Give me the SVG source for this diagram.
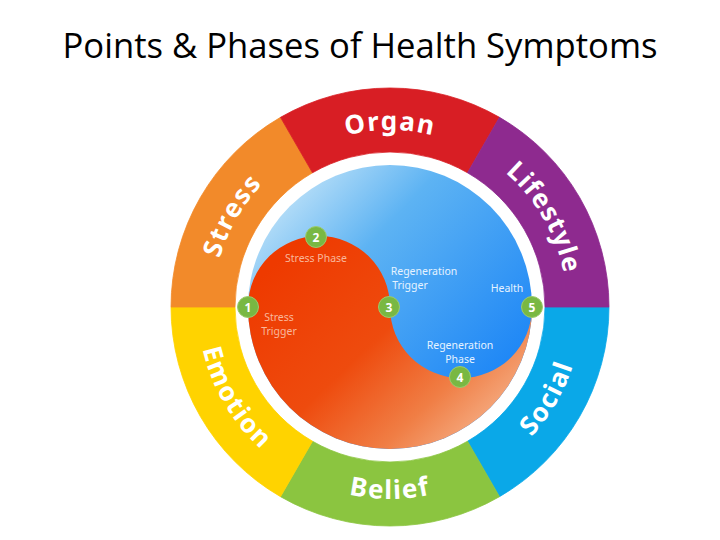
<svg xmlns="http://www.w3.org/2000/svg" xmlns:xlink="http://www.w3.org/1999/xlink" width="720" height="540" viewBox="0 0 720 540">
<style>
  .title{font-family:"Open Sans","Liberation Sans",sans-serif;font-size:34px;fill:#000}
  .ringlbl{font-family:"Noto Sans","Open Sans",sans-serif;font-weight:700;font-size:26px;fill:#fff;letter-spacing:1.5px}
  .lbl{font-family:"Noto Sans","Open Sans",sans-serif;font-size:10.5px;text-anchor:middle}
  .lr{fill:#F9B79B}
  .lb{fill:#E6F3FF}
  .pt circle{fill:#79B843;stroke:#9CCB6E;stroke-width:1}
  .pt text{font-family:"Noto Sans","Open Sans",sans-serif;font-weight:700;font-size:12px;fill:#fff;text-anchor:middle}
</style>
<defs>
  <linearGradient id="gBlue" gradientUnits="userSpaceOnUse" x1="300" y1="170" x2="510" y2="370">
    <stop offset="0" stop-color="#BFE2F8"/>
    <stop offset="0.35" stop-color="#5DB3F3"/>
    <stop offset="1" stop-color="#1D86F6"/>
  </linearGradient>
  <linearGradient id="gRed" gradientUnits="userSpaceOnUse" x1="290" y1="250" x2="480" y2="450">
    <stop offset="0" stop-color="#EE3A00"/>
    <stop offset="0.45" stop-color="#EE4B0E"/>
    <stop offset="0.75" stop-color="#F07E45"/>
    <stop offset="1" stop-color="#F6B58E"/>
  </linearGradient>
  <path id="arcTop" d="M213,307 A177,177 0 0 1 567,307"/>
  <path id="arcBot" d="M198,307 A192,192 0 0 0 582,307"/>
</defs>
<rect width="720" height="540" fill="#fff"/>
<text class="title" x="360" y="58" text-anchor="middle" textLength="595" lengthAdjust="spacingAndGlyphs">Points &amp; Phases of Health Symptoms</text>

<g id="ring">
  <g id="seg-social"><path d="M609,307 A219,219 0 0 1 499.5,496.66 L467.5,441.23 A155,155 0 0 0 545,307 Z" fill="#0AA8E8" stroke="#0AA8E8" stroke-width="0.8"/></g>
  <g id="seg-belief"><path d="M499.5,496.66 A219,219 0 0 1 280.5,496.66 L312.5,441.23 A155,155 0 0 0 467.5,441.23 Z" fill="#8BC540" stroke="#8BC540" stroke-width="0.8"/></g>
  <g id="seg-emotion"><path d="M280.5,496.66 A219,219 0 0 1 171,307 L235,307 A155,155 0 0 0 312.5,441.23 Z" fill="#FFD300" stroke="#FFD300" stroke-width="0.8"/></g>
  <g id="seg-stress"><path d="M171,307 A219,219 0 0 1 280.5,117.34 L312.5,172.77 A155,155 0 0 0 235,307 Z" fill="#F28A2A" stroke="#F28A2A" stroke-width="0.8"/></g>
  <g id="seg-organ"><path d="M280.5,117.34 A219,219 0 0 1 499.5,117.34 L467.5,172.77 A155,155 0 0 0 312.5,172.77 Z" fill="#D81E24" stroke="#D81E24" stroke-width="0.8"/></g>
  <g id="seg-lifestyle"><path d="M499.5,117.34 A219,219 0 0 1 609,307 L545,307 A155,155 0 0 0 467.5,172.77 Z" fill="#8E2A8F" stroke="#8E2A8F" stroke-width="0.8"/></g>
  <g id="ring-labels">
    <text class="ringlbl" text-anchor="middle"><textPath xlink:href="#arcTop" href="#arcTop" startOffset="16.7%">Stress</textPath></text>
    <text class="ringlbl" text-anchor="middle"><textPath xlink:href="#arcTop" href="#arcTop" startOffset="50%">Organ</textPath></text>
    <text class="ringlbl" text-anchor="middle" style="letter-spacing:1px"><textPath xlink:href="#arcTop" href="#arcTop" startOffset="83.3%">Lifestyle</textPath></text>
    <text class="ringlbl" text-anchor="middle"><textPath xlink:href="#arcBot" href="#arcBot" startOffset="16.9%">Emotion</textPath></text>
    <text class="ringlbl" text-anchor="middle"><textPath xlink:href="#arcBot" href="#arcBot" startOffset="50%">Belief</textPath></text>
    <text class="ringlbl" text-anchor="middle"><textPath xlink:href="#arcBot" href="#arcBot" startOffset="83.3%">Social</textPath></text>
  </g>
</g>

<g id="disc">
  <circle cx="390" cy="307" r="142" fill="url(#gBlue)"/>
  <path d="M248,307 A71,71 0 0 1 390,307 A71,71 0 0 0 532,307 A142,142 0 0 1 248,307 Z" fill="url(#gRed)"/>
</g>

<g id="connectors"></g>

<g id="labels">
  <text class="lbl lr" x="316" y="262">Stress Phase</text>
  <text class="lbl lr" x="279" y="321">Stress</text>
  <text class="lbl lr" x="279" y="335">Trigger</text>
  <text class="lbl lb" x="424" y="275">Regeneration</text>
  <text class="lbl lb" x="410" y="288.5">Trigger</text>
  <text class="lbl lb" x="507" y="292">Health</text>
  <text class="lbl lb" x="460" y="349">Regeneration</text>
  <text class="lbl lb" x="460" y="362.5">Phase</text>
</g>

<g id="p1" class="pt"><circle cx="248" cy="307" r="10.5"/><text x="248" y="311.5">1</text></g>
<g id="p2" class="pt"><circle cx="316" cy="237" r="10.5"/><text x="316" y="241.5">2</text></g>
<g id="p3" class="pt"><circle cx="389" cy="307" r="10.5"/><text x="389" y="311.5">3</text></g>
<g id="p4" class="pt"><circle cx="460" cy="377" r="10.5"/><text x="460" y="381.5">4</text></g>
<g id="p5" class="pt"><circle cx="532" cy="307" r="10.5"/><text x="532" y="311.5">5</text></g>
</svg>
